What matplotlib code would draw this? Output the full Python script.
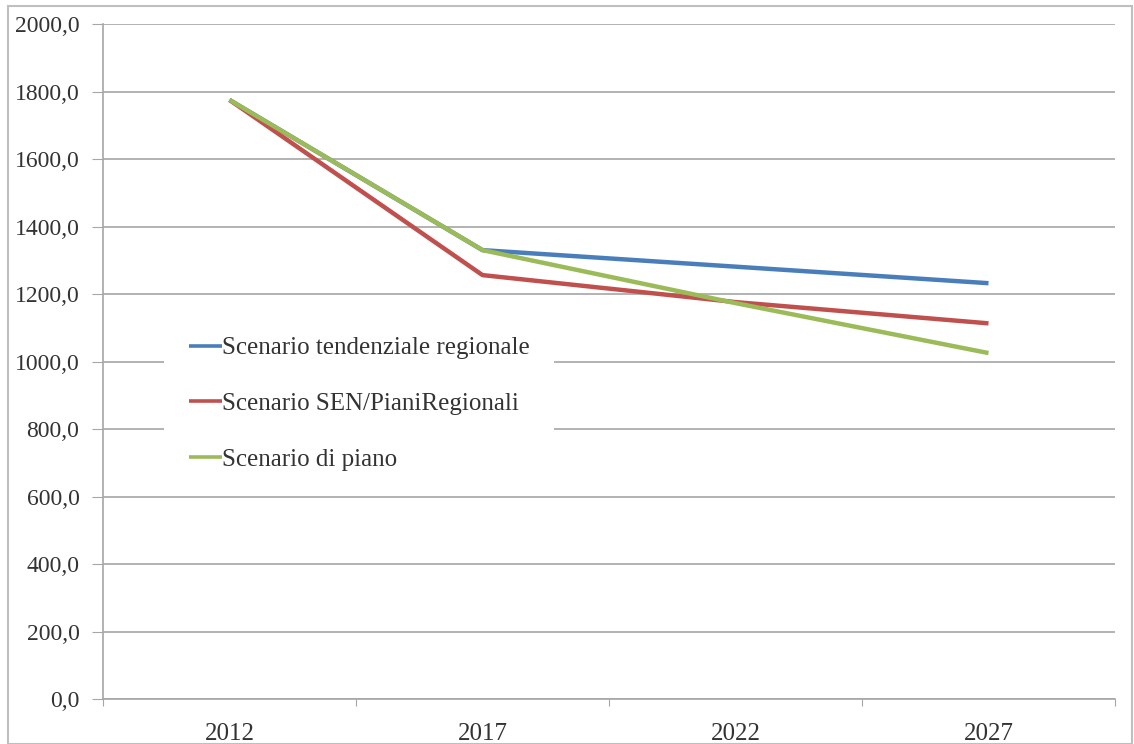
import matplotlib
matplotlib.use("Agg")
import matplotlib.pyplot as plt
from matplotlib.ticker import FuncFormatter, FixedLocator

years = ["2012", "2017", "2022", "2027"]
tendenziale = [1775, 1330, 1281, 1232]
sen_piani = [1775, 1256, 1176, 1113]
piano = [1775, 1330, 1173, 1025]
labels = ["Scenario tendenziale regionale", "Scenario SEN/PianiRegionali", "Scenario di piano"]
colors = ["#4a7ebb", "#c0504d", "#9bbb59"]
y_ticks = list(range(0, 2001, 200))

plt.rcParams['font.family'] = ['Liberation Serif', 'DejaVu Serif']

fig = plt.figure(figsize=(11.34, 7.44), dpi=100)
ax = fig.add_axes([103/1134, 1 - 699/744, (1115-103)/1134, (699-24)/744])

x = list(range(len(years)))
for series, lab, col in zip([tendenziale, sen_piani, piano], labels, colors):
    ax.plot(x, series, color=col, lw=3.2, label=lab, solid_capstyle='butt')

ax.set_xlim(-0.5, len(years) - 0.5)
ax.set_ylim(0, 2000)
ax.set_yticks(y_ticks)
ax.yaxis.set_major_formatter(FuncFormatter(lambda v, p: f"{v:.1f}".replace(".", ",")))
ax.grid(axis='y', color='#a6a6a6', lw=1.2)
ax.set_axisbelow(True)

ax.xaxis.set_major_locator(FixedLocator([i - 0.5 for i in range(len(years) + 1)]))
ax.xaxis.set_major_formatter(FuncFormatter(lambda v, p: ""))
ax.xaxis.set_minor_locator(FixedLocator(x))
ax.set_xticklabels(years, minor=True)
ax.tick_params(axis='x', which='minor', length=0, labelsize=18, colors='#333333', pad=17)
ax.tick_params(axis='x', which='major', length=5, color='#a6a6a6')
ax.tick_params(axis='y', length=8, color='#a6a6a6', labelsize=17, labelcolor='#333333', pad=9)

for s in ['top', 'right']:
    ax.spines[s].set_visible(False)
for s in ['left', 'bottom']:
    ax.spines[s].set_color('#a6a6a6')
    ax.spines[s].set_linewidth(1.2)

leg = ax.legend(loc='upper left', bbox_to_anchor=(0.048, 0.592), frameon=True,
                fontsize=18, handlelength=1.3, handletextpad=0.0, labelspacing=1.33,
                borderpad=1.0, labelcolor='#333333')
leg.get_frame().set_edgecolor('none')
leg.get_frame().set_facecolor('white')
leg.get_frame().set_alpha(1.0)
for h in leg.legend_handles:
    h.set_linewidth(2.6)

fig.patches.append(plt.Rectangle((8/1134, 0), 1 - 8/1134 - 0.002, 1 - 6/744, transform=fig.transFigure,
                                 fill=False, edgecolor='#bfbfbf', lw=1.5))
fig.savefig("out.png", dpi=100)
